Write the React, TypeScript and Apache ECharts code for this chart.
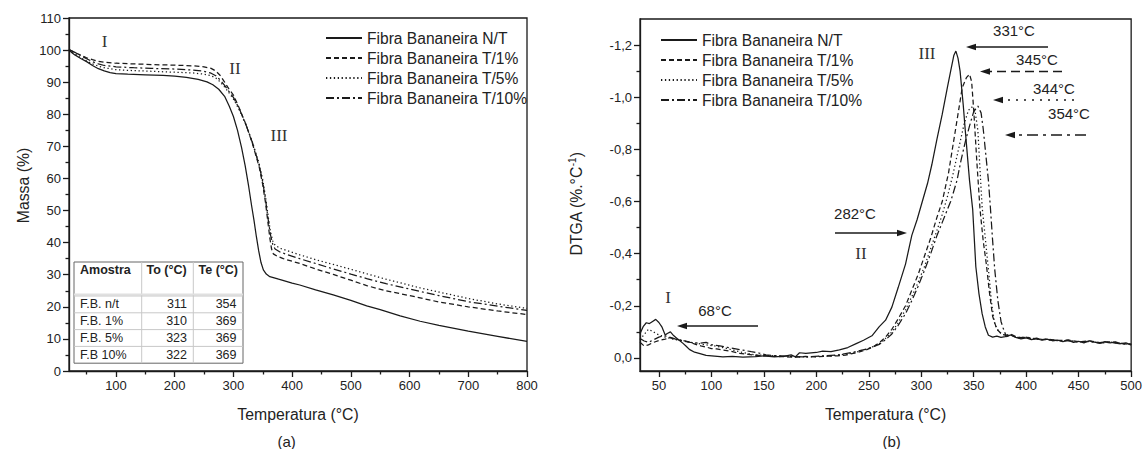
import React, { useEffect, useRef } from "react";
import * as echarts from "echarts";

// ---------- data ----------
const seriesNames = [
  "Fibra Bananeira N/T",
  "Fibra Bananeira T/1%",
  "Fibra Bananeira T/5%",
  "Fibra Bananeira T/10%",
];

// TGA (a): [temperature °C, mass %]
const tgaNT = [[20,100],[25,99.2],[30,98.5],[40,97.4],[50,96.4],[60,95.2],[70,94.2],[80,93.5],[90,93.0],[100,92.7],[120,92.5],[150,92.3],[180,92.1],[200,91.9],[220,91.5],[240,90.9],[255,90.1],[265,89.2],[275,87.8],[285,85.6],[293,82.5],[300,79.3],[307,75],[314,69.5],[320,64],[326,57.5],[331,51.5],[335,47],[339,42],[343,37.5],[347,33.8],[351,31.5],[356,30.2],[362,29.4],[377,28.6],[400,27.4],[413,26.8],[440,25.3],[470,23.7],[500,22],[527,20.3],[550,19.1],[584,17.2],[618,15.5],[650,14.2],[700,12.4],[750,10.8],[800,9.2]];
const tgaT1 = [[20,100.2],[30,99.2],[40,98.4],[50,97.6],[60,97],[70,96.5],[80,96.2],[100,95.9],[130,95.7],[160,95.5],[200,95.3],[230,95.1],[250,94.8],[262,94.3],[270,93.5],[278,92],[285,90],[292,88],[300,86],[311,81.5],[322,76.5],[333,70.5],[344,63.5],[350,58],[355,52],[359,46],[362,41.5],[365,38],[368,36.5],[374,35.8],[385,35],[413,33.5],[440,31.8],[470,30.1],[500,28.3],[527,26.6],[560,25],[618,22.8],[650,21.5],[700,20],[750,18.7],[800,17.6]];
const tgaT5 = [[20,100],[30,98.8],[40,97.6],[50,96.6],[60,95.7],[70,95],[80,94.5],[100,93.9],[130,93.6],[160,93.4],[200,93.1],[230,92.9],[250,92.5],[262,92],[270,91.3],[278,90],[285,88.5],[292,86.8],[300,84.8],[311,81],[322,76.5],[333,71],[344,64.5],[350,59.5],[355,54],[359,48.5],[363,43.5],[367,40.5],[371,39.2],[380,38.2],[413,36.2],[440,34.7],[470,33.2],[500,31.7],[527,30.3],[560,28.6],[618,25.9],[650,24.6],[700,22.6],[750,20.9],[800,19.5]];
const tgaT10 = [[20,100.2],[30,99.3],[40,98.3],[50,97.3],[60,96.4],[70,95.7],[80,95.2],[100,94.8],[130,94.5],[160,94.3],[200,94.1],[230,93.8],[250,93.4],[262,92.8],[270,92],[278,90.6],[285,89],[292,87.2],[300,85.3],[311,81.3],[322,76.4],[333,70.8],[344,64],[350,58.8],[355,53],[359,47.5],[363,42.5],[367,39.5],[371,38],[380,37],[413,35],[440,33.5],[470,31.8],[500,30.2],[527,28.8],[560,27.2],[618,24.8],[650,23.5],[700,21.6],[750,20.2],[800,18.9]];

// DTGA (b): [temperature °C, %/°C]
const dtgNT = [[32,-0.093],[35,-0.12],[38,-0.135],[41,-0.132],[44,-0.14],[47,-0.148],[50,-0.136],[53,-0.118],[56,-0.088],[58,-0.094],[61,-0.1],[64,-0.086],[67,-0.076],[70,-0.066],[73,-0.056],[76,-0.045],[79,-0.033],[84,-0.022],[90,-0.016],[95,-0.01],[103,-0.007],[111,-0.004],[120,-0.006],[130,-0.003],[142,-0.005],[150,-0.008],[160,-0.004],[170,-0.007],[176,-0.012],[180,-0.004],[184,-0.02],[190,-0.018],[200,-0.021],[206,-0.026],[214,-0.024],[222,-0.031],[230,-0.04],[238,-0.055],[245,-0.068],[253,-0.085],[260,-0.12],[266,-0.145],[272,-0.195],[278,-0.27],[285,-0.36],[291,-0.47],[296,-0.53],[301,-0.6],[306,-0.67],[310,-0.74],[315,-0.84],[320,-0.935],[325,-1.04],[328,-1.1],[331,-1.16],[333,-1.177],[335,-1.15],[337,-1.1],[340,-0.97],[342,-0.87],[346,-0.68],[349,-0.57],[352,-0.35],[355,-0.246],[358,-0.17],[361,-0.119],[364,-0.087],[368,-0.08],[372,-0.084],[376,-0.079],[380,-0.082],[385,-0.088],[390,-0.079],[395,-0.073],[400,-0.077],[405,-0.07],[410,-0.074],[415,-0.068],[420,-0.072],[425,-0.066],[430,-0.068],[435,-0.063],[440,-0.068],[445,-0.06],[450,-0.064],[455,-0.058],[460,-0.066],[465,-0.061],[470,-0.057],[475,-0.063],[480,-0.058],[485,-0.062],[490,-0.055],[495,-0.058],[500,-0.05]];
const dtgT1 = [[32,-0.06],[36,-0.046],[40,-0.05],[45,-0.06],[51,-0.068],[56,-0.072],[60,-0.078],[64,-0.074],[70,-0.068],[75,-0.066],[79,-0.061],[85,-0.052],[90,-0.046],[95,-0.042],[100,-0.036],[105,-0.035],[111,-0.03],[118,-0.026],[127,-0.018],[135,-0.014],[143,-0.01],[150,-0.009],[160,-0.006],[170,-0.005],[180,-0.003],[190,-0.006],[200,-0.004],[210,-0.007],[220,-0.008],[228,-0.011],[238,-0.02],[247,-0.03],[254,-0.042],[260,-0.058],[266,-0.08],[272,-0.11],[278,-0.15],[285,-0.2],[291,-0.26],[297,-0.32],[303,-0.39],[309,-0.46],[315,-0.54],[320,-0.6],[326,-0.71],[332,-0.86],[336,-0.96],[339,-1.036],[343,-1.075],[346,-1.088],[348,-1.06],[350,-0.95],[353,-0.75],[356,-0.57],[359,-0.45],[362,-0.36],[365,-0.25],[368,-0.16],[372,-0.11],[376,-0.094],[380,-0.087],[385,-0.092],[390,-0.082],[395,-0.078],[400,-0.081],[405,-0.072],[410,-0.076],[415,-0.07],[420,-0.073],[430,-0.067],[440,-0.069],[450,-0.062],[460,-0.066],[470,-0.059],[480,-0.062],[490,-0.056],[500,-0.053]];
const dtgT5 = [[32,-0.07],[36,-0.09],[40,-0.11],[44,-0.102],[48,-0.092],[52,-0.086],[56,-0.08],[60,-0.076],[66,-0.07],[72,-0.068],[80,-0.06],[88,-0.055],[95,-0.05],[103,-0.046],[111,-0.04],[120,-0.031],[130,-0.021],[140,-0.013],[150,-0.01],[160,-0.008],[175,-0.005],[190,-0.004],[205,-0.006],[220,-0.01],[235,-0.019],[248,-0.034],[255,-0.045],[260,-0.055],[266,-0.075],[272,-0.1],[278,-0.135],[285,-0.185],[291,-0.235],[297,-0.29],[303,-0.35],[309,-0.42],[315,-0.49],[320,-0.55],[325,-0.62],[330,-0.7],[336,-0.81],[341,-0.9],[345,-0.95],[348,-0.962],[351,-0.955],[354,-0.87],[356,-0.72],[358,-0.58],[361,-0.46],[364,-0.34],[367,-0.21],[370,-0.13],[374,-0.1],[378,-0.09],[382,-0.085],[386,-0.089],[390,-0.08],[395,-0.076],[400,-0.079],[410,-0.072],[420,-0.071],[430,-0.066],[440,-0.067],[450,-0.061],[460,-0.064],[470,-0.058],[480,-0.061],[490,-0.055],[500,-0.052]];
const dtgT10 = [[32,-0.075],[36,-0.065],[40,-0.06],[45,-0.07],[50,-0.08],[55,-0.086],[60,-0.08],[66,-0.072],[72,-0.065],[80,-0.06],[88,-0.056],[95,-0.06],[100,-0.051],[108,-0.046],[115,-0.041],[122,-0.036],[130,-0.03],[138,-0.024],[145,-0.019],[152,-0.012],[160,-0.009],[175,-0.006],[190,-0.004],[205,-0.008],[220,-0.011],[235,-0.022],[248,-0.034],[255,-0.044],[260,-0.052],[266,-0.07],[272,-0.092],[278,-0.125],[285,-0.17],[291,-0.22],[297,-0.275],[303,-0.335],[309,-0.4],[315,-0.47],[320,-0.52],[328,-0.6],[334,-0.68],[338,-0.76],[342,-0.83],[346,-0.89],[350,-0.945],[354,-0.966],[357,-0.94],[359,-0.88],[361,-0.8],[364,-0.68],[366,-0.57],[368,-0.45],[370,-0.34],[373,-0.22],[376,-0.14],[378,-0.115],[381,-0.082],[385,-0.088],[390,-0.08],[395,-0.077],[400,-0.08],[410,-0.073],[420,-0.07],[430,-0.067],[440,-0.066],[450,-0.062],[460,-0.063],[470,-0.057],[480,-0.06],[490,-0.054],[500,-0.051]];

// axis ticks
const tgaXTicks = [100, 200, 300, 400, 500, 600, 700, 800];
const tgaXMinor = [50, 150, 250, 350, 450, 550, 650, 750];
const dtgXTicks = [50, 100, 150, 200, 250, 300, 350, 400, 450, 500];
const dtgXMinor = [75, 125, 175, 225, 275, 325, 375, 425, 475];
const dtgYTicks = [-1.2, -1.0, -0.8, -0.6, -0.4, -0.2, 0];
const dtgYMinor = [-1.1, -0.9, -0.7, -0.5, -0.3, -0.1];

// inset table
const tableHeader = ["Amostra", "To (°C)", "Te (°C)"];
const tableSamples = ["F.B. n/t", "F.B. 1%", "F.B. 5%", "F.B 10%"];
const tableTo = [311, 310, 323, 322];
const tableTe = [354, 369, 369, 369];

// peak annotations
const peakLabels = ["331°C", "345°C", "344°C", "354°C"];

// ---------- styles ----------
const FONT = "'Liberation Sans', Arial, Helvetica, sans-serif";
const SERIF = "'Liberation Serif', 'Times New Roman', serif";
const INK = "#1a1a1a";
const TXT = "#222";
const lineTypes: any[] = ["solid", [5, 3], [1.3, 2.6], [8, 3, 2, 3]];
const arrowDash: any[] = [null, [9, 5], [2, 6], [11, 5, 3, 5]];

function arrow(x1: number, tip: number, y: number, dash: any) {
  const dir = tip > x1 ? 1 : -1;
  const back = tip - dir * 10;
  return [
    {
      type: "line",
      silent: true,
      shape: { x1, y1: y, x2: back, y2: y },
      style: { stroke: INK, lineWidth: 1.6, lineDash: dash || undefined },
    },
    {
      type: "polygon",
      silent: true,
      shape: { points: [[tip, y], [back, y - 3.2], [back, y + 3.2]] },
      style: { fill: INK },
    },
  ];
}

function txt(x: number, y: number, text: string, size: number, family = FONT, extra: any = {}) {
  return {
    type: "text",
    silent: true,
    x,
    y,
    style: {
      text,
      fontSize: size,
      fontFamily: family,
      fill: TXT,
      align: "center",
      verticalAlign: "middle",
      ...extra,
    },
  };
}

function buildTable() {
  const els: any[] = [];
  const x0 = 74, x1 = 141.7, x2 = 193.3, x3 = 243;
  const yTop = 262, yHead = 296, rowH = 16.8;
  const yBot = yHead + rowH * tableSamples.length;
  els.push({ type: "rect", silent: true, shape: { x: x0, y: yTop, width: x3 - x0, height: yBot - yTop }, style: { fill: "#fff", stroke: "#666", lineWidth: 1 } });
  els.push({ type: "line", silent: true, shape: { x1: x1, y1: yTop, x2: x1, y2: yBot }, style: { stroke: "#c8c8c8", lineWidth: 1 } });
  els.push({ type: "line", silent: true, shape: { x1: x2, y1: yTop, x2: x2, y2: yBot }, style: { stroke: "#c8c8c8", lineWidth: 1 } });
  els.push({ type: "line", silent: true, shape: { x1: x0, y1: yHead - 1.5, x2: x3, y2: yHead - 1.5 }, style: { stroke: "#e0e0e0", lineWidth: 2 } });
  for (let i = 0; i <= tableSamples.length - 1; i++) {
    const y = yHead + rowH * i;
    els.push({ type: "line", silent: true, shape: { x1: x0, y1: y, x2: x3, y2: y }, style: { stroke: "#c8c8c8", lineWidth: 1 } });
  }
  const hy = 270;
  els.push(txt(80, hy, tableHeader[0], 12.5, FONT, { align: "left", fontWeight: "bold" }));
  els.push(txt(146.5, hy, tableHeader[1], 12.5, FONT, { align: "left", fontWeight: "bold" }));
  els.push(txt(198.5, hy, tableHeader[2], 12.5, FONT, { align: "left", fontWeight: "bold" }));
  tableSamples.forEach((s, i) => {
    const y = yHead + rowH * i + rowH / 2;
    els.push(txt(80, y, s, 12.5, FONT, { align: "left" }));
    els.push(txt(187, y, String(tableTo[i]), 12.5, FONT, { align: "right" }));
    els.push(txt(236.5, y, String(tableTe[i]), 12.5, FONT, { align: "right" }));
  });
  return els;
}

const axisLineStyle = { color: INK, width: 1.3 };

function App() {
  const ref = useRef<HTMLDivElement>(null);

  useEffect(() => {
    if (!ref.current) return;
    const chart = echarts.init(ref.current, undefined, { renderer: "svg" });

    const tgaData = [tgaNT, tgaT1, tgaT5, tgaT10];
    const dtgData = [dtgNT, dtgT1, dtgT5, dtgT10];

    const series: any[] = [];
    tgaData.forEach((d, i) =>
      series.push({
        name: seriesNames[i],
        type: "line",
        xAxisIndex: 0,
        yAxisIndex: 0,
        data: d,
        symbol: "none",
        showSymbol: false,
        smooth: false,
        lineStyle: { color: INK, width: 1.25, type: lineTypes[i] },
        itemStyle: { color: INK },
      })
    );
    dtgData.forEach((d, i) =>
      series.push({
        name: seriesNames[i],
        type: "line",
        xAxisIndex: 2,
        yAxisIndex: 1,
        data: d,
        symbol: "none",
        showSymbol: false,
        smooth: false,
        lineStyle: { color: INK, width: 1.25, type: lineTypes[i] },
        itemStyle: { color: INK },
      })
    );

    const legendCommon = {
      data: seriesNames,
      orient: "vertical",
      itemWidth: 36,
      itemHeight: 14,
      itemGap: 2,
      selectedMode: false,
      itemStyle: { opacity: 0, borderWidth: 0 },
      textStyle: { fontSize: 15.6, color: TXT, fontFamily: FONT, lineHeight: 18 },
    };

    const graphic: any[] = [
      // panel (a) annotations
      txt(104.5, 41, "I", 17, SERIF, { fill: "#333" }),
      txt(235, 68.5, "II", 17, SERIF, { fill: "#333" }),
      txt(279, 135, "III", 17, SERIF, { fill: "#333" }),
      ...buildTable(),
      txt(286.7, 441.5, "(a)", 15),
      // panel (b) annotations
      txt(927, 53, "III", 17, SERIF, { fill: "#333" }),
      txt(1014, 30, peakLabels[0], 15),
      ...arrow(1048, 966, 47, arrowDash[0]),
      txt(1037, 59, peakLabels[1], 15),
      ...arrow(1062, 980, 71.5, arrowDash[1]),
      txt(1054, 88, peakLabels[2], 15),
      ...arrow(1074, 993, 100, arrowDash[2]),
      txt(1069, 113, peakLabels[3], 15),
      ...arrow(1086, 1005, 135, arrowDash[3]),
      txt(855, 213, "282°C", 15),
      ...arrow(835, 907, 233, null),
      txt(861, 253, "II", 17, SERIF, { fill: "#333" }),
      txt(668, 297, "I", 17, SERIF, { fill: "#333" }),
      txt(715, 310, "68°C", 15),
      ...arrow(758, 677, 326, null),
      txt(891.7, 441.5, "(b)", 15),
    ];

    chart.setOption({
      animation: false,
      backgroundColor: "#ffffff",
      textStyle: { fontFamily: FONT },
      grid: [
        { left: 69, top: 18, width: 458, height: 353, show: true, borderColor: INK, borderWidth: 1.3, backgroundColor: "transparent" },
        { left: 640, top: 19, width: 493, height: 352, show: true, borderColor: INK, borderWidth: 1.3, backgroundColor: "transparent" },
      ],
      legend: [
        { ...legendCommon, left: 320, top: 24 },
        { ...legendCommon, left: 655, top: 26 },
      ],
      xAxis: [
        {
          type: "value", gridIndex: 0, min: 20, max: 800, position: "bottom",
          axisLine: { show: true, onZero: false, lineStyle: axisLineStyle },
          axisTick: { show: true, customValues: tgaXTicks, length: 6, lineStyle: axisLineStyle },
          axisLabel: { show: true, customValues: tgaXTicks, fontSize: 13, color: TXT, margin: 8 },
          splitLine: { show: false },
          name: "Temperatura (°C)", nameLocation: "middle", nameGap: 35,
          nameTextStyle: { fontSize: 15.8, color: TXT },
        },
        {
          type: "value", gridIndex: 0, min: 20, max: 800, position: "bottom",
          axisLine: { show: false, onZero: false },
          axisTick: { show: true, customValues: tgaXMinor, length: 3.5, lineStyle: axisLineStyle },
          axisLabel: { show: false },
          splitLine: { show: false },
        },
        {
          type: "value", gridIndex: 1, min: 32, max: 500, position: "bottom",
          axisLine: { show: true, onZero: false, lineStyle: axisLineStyle },
          axisTick: { show: true, customValues: dtgXTicks, length: 6, lineStyle: axisLineStyle },
          axisLabel: { show: true, customValues: dtgXTicks, fontSize: 13, color: TXT, margin: 8 },
          splitLine: { show: false },
          name: "Temperatura (°C)", nameLocation: "middle", nameGap: 35,
          nameTextStyle: { fontSize: 15.8, color: TXT },
        },
        {
          type: "value", gridIndex: 1, min: 32, max: 500, position: "bottom",
          axisLine: { show: false, onZero: false },
          axisTick: { show: true, customValues: dtgXMinor, length: 3.5, lineStyle: axisLineStyle },
          axisLabel: { show: false },
          splitLine: { show: false },
        },
      ],
      yAxis: [
        {
          type: "value", gridIndex: 0, min: 0, max: 110, interval: 10, position: "left",
          axisLine: { show: true, onZero: false, lineStyle: axisLineStyle },
          axisTick: { show: true, length: 6, lineStyle: axisLineStyle },
          minorTick: { show: true, splitNumber: 2, length: 3.5, lineStyle: axisLineStyle },
          axisLabel: { fontSize: 13, color: TXT, margin: 8 },
          splitLine: { show: false },
          minorSplitLine: { show: false },
          name: "Massa (%)", nameLocation: "middle", nameGap: 38,
          nameTextStyle: { fontSize: 15.8, color: TXT, padding: [0, 0, 0, 18] },
        },
        {
          type: "value", gridIndex: 1, min: -1.3, max: 0.05, inverse: true, position: "left",
          axisLine: { show: true, onZero: false, lineStyle: axisLineStyle },
          axisTick: { show: true, customValues: dtgYTicks, length: 6, lineStyle: axisLineStyle },
          axisLabel: {
            customValues: dtgYTicks, fontSize: 13, color: TXT, margin: 8,
            formatter: (v: number) => (Math.abs(v) < 1e-9 ? "0,0" : v.toFixed(1).replace(".", ",")),
          },
          splitLine: { show: false },
          name: "{a|DTGA (%.°C}{s|-1}{a|)}", nameLocation: "middle", nameGap: 55,
          nameTextStyle: {
            color: TXT,
            padding: [0, 0, 0, -18],
            rich: {
              a: { fontSize: 15.8, color: TXT, fontFamily: FONT, lineHeight: 18 },
              s: { fontSize: 10, color: TXT, fontFamily: FONT, lineHeight: 18, verticalAlign: "top", padding: [0, 0, 7, 0] },
            },
          },
        },
        {
          type: "value", gridIndex: 1, min: -1.3, max: 0.05, inverse: true, position: "left",
          axisLine: { show: false, onZero: false },
          axisTick: { show: true, customValues: dtgYMinor, length: 3.5, lineStyle: axisLineStyle },
          axisLabel: { show: false },
          splitLine: { show: false },
        },
      ],
      series,
      graphic,
    });

    return () => chart.dispose();
  }, []);

  return (
    <div
      ref={ref}
      style={{ position: "fixed", left: 0, top: 0, width: 1145, height: 449, background: "#fff" }}
    />
  );
}

export default App;
